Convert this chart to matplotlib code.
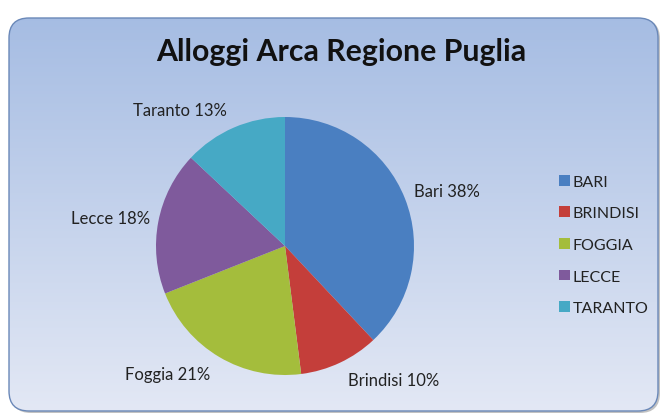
import numpy as np
import matplotlib
matplotlib.use('Agg')
import matplotlib.pyplot as plt
from matplotlib.patches import FancyBboxPatch, Patch

plt.rcParams['font.family'] = ['Lato', 'DejaVu Sans']

# data
cities = ['Bari', 'Brindisi', 'Foggia', 'Lecce', 'Taranto']
legend_names = ['BARI', 'BRINDISI', 'FOGGIA', 'LECCE', 'TARANTO']
shares = [38, 10, 21, 18, 13]
colors = ['#4a7fc1', '#c43e3a', '#a4bd3c', '#7f5a9c', '#46a9c5']
title = 'Alloggi Arca Regione Puglia'

W, H = 665, 414
fig = plt.figure(figsize=(W / 100, H / 100), dpi=100)
fig.patch.set_facecolor('white')
ax = fig.add_axes([0, 0, 1, 1])
ax.set_xlim(0, W)
ax.set_ylim(0, H)
ax.axis('off')

# shadow + rounded panel with vertical gradient
shadow = FancyBboxPatch((11, 0), W - 16, H - 20, boxstyle='round,pad=0,rounding_size=20',
                        fc='#9a9a9a', ec='none', alpha=0.6, zorder=0)
ax.add_patch(shadow)
panel = FancyBboxPatch((9, 2), W - 16, H - 21, boxstyle='round,pad=0,rounding_size=20',
                       fc='none', ec='#6a88b8', lw=1.0, zorder=2)
ax.add_patch(panel)
grad = np.linspace(0, 1, 256).reshape(-1, 1)
top = np.array([0.65, 0.74, 0.89])
bot = np.array([0.89, 0.91, 0.96])
img = bot + (top - bot) * grad[..., None]
im = ax.imshow(img, extent=[9, W - 7, 2, H - 19], origin='lower', aspect='auto', zorder=1)
im.set_clip_path(panel)

ax.text(341, H - 52, title, ha='center', va='center', fontsize=21.8, fontweight='bold',
        color='#111111', zorder=3)

labels = ['%s %d%%' % (c, s) for c, s in zip(cities, shares)]
wedges, texts = ax.pie(shares, colors=colors, startangle=90, counterclock=False,
                       center=(285, 167), radius=129, labels=labels, labeldistance=1.15,
                       textprops={'fontsize': 12, 'color': '#222222'},
                       wedgeprops={'linewidth': 0, 'zorder': 3})
for w, t in zip(wedges, texts):
    mid = np.deg2rad((w.theta1 + w.theta2) / 2)
    c = np.cos(mid)
    t.set_ha('left' if c > 0 else 'right')
    # labels beside the pie sit a bit closer, like Excel's best fit
    x, y = t.get_position()
    t.set_position((x - 12 * c * abs(c) ** 3, y))
    t.set_zorder(4)
ax.set_xlim(0, W)
ax.set_ylim(0, H)
ax.set_aspect('auto')

handles = [Patch(facecolor=c, edgecolor='none') for c in colors]
leg = ax.legend(handles, legend_names, loc='center left', bbox_to_anchor=(545 / W, 168 / H),
                frameon=False, fontsize=11.5, handlelength=0.65, handleheight=0.65,
                handletextpad=0.2, labelspacing=1.1, labelcolor='#222222')
leg.set_zorder(5)

fig.savefig('out.png', dpi=100)
